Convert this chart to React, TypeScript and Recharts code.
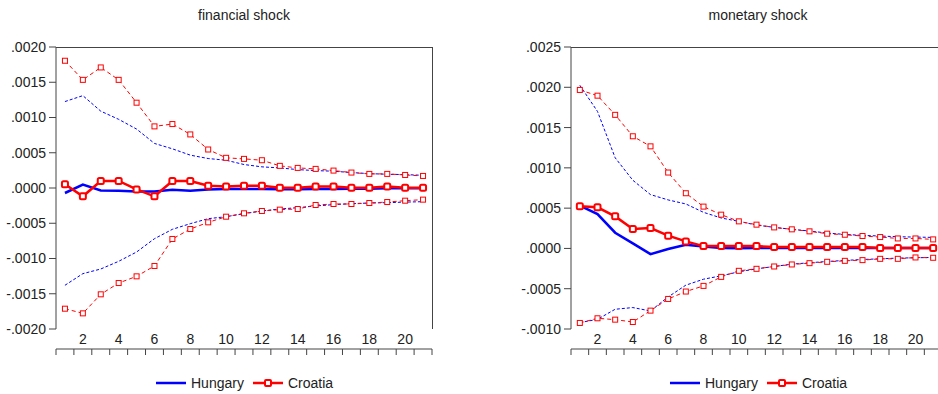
import React from 'react';
import { ComposedChart, Line, XAxis, YAxis } from 'recharts';

const periods = [1, 2, 3, 4, 5, 6, 7, 8, 9, 10, 11, 12, 13, 14, 15, 16, 17, 18, 19, 20, 21];
const bandEdges = [0.5, 1.5, 2.5, 3.5, 4.5, 5.5, 6.5, 7.5, 8.5, 9.5, 10.5, 11.5, 12.5, 13.5, 14.5, 15.5, 16.5, 17.5, 18.5, 19.5, 20.5, 21.5];
const periodLabels = [2, 4, 6, 8, 10, 12, 14, 16, 18, 20];

const finTicks = [-0.002, -0.0015, -0.001, -0.0005, 0, 0.0005, 0.001, 0.0015, 0.002];
const monTicks = [-0.001, -0.0005, 0, 0.0005, 0.001, 0.0015, 0.002, 0.0025];

const finHungary = [-0.000071, 0.000048, -0.000035, -0.00004, -0.000048, -0.00005, -0.000024, -0.00004, -0.00002, -0.000014, -0.000014, -0.000014, -0.000018, -0.000018, -0.000014, -0.000014, -0.00001, -0.00001, -0.000005, -0.000005, -0.000005];
const finHungaryUp = [0.001226, 0.00131, 0.00109, 0.000974, 0.000836, 0.000632, 0.000556, 0.000466, 0.000418, 0.000394, 0.000333, 0.0003, 0.000285, 0.000261, 0.000247, 0.000238, 0.000219, 0.000204, 0.000195, 0.00019, 0.00018];
const finHungaryLow = [-0.00138, -0.001215, -0.001149, -0.00104, -0.000908, -0.000719, -0.000586, -0.000506, -0.000435, -0.000407, -0.000364, -0.000326, -0.000298, -0.000279, -0.000255, -0.000236, -0.000222, -0.000213, -0.000208, -0.0002, -0.000194];
const finCroatia = [0.000052, -0.000118, 0.0001, 0.0001, -0.00002, -0.000118, 0.0001, 0.0001, 0.000033, 0.00002, 0.000033, 0.000033, 0.000005, 0.000005, 0.00002, 0.00002, 0.000005, 0.000005, 0.00002, 0.000005, 0.000005];
const finCroatiaUp = [0.001805, 0.001534, 0.00171, 0.001534, 0.00121, 0.000874, 0.000907, 0.00076, 0.000546, 0.000428, 0.000413, 0.000394, 0.000314, 0.000285, 0.000271, 0.000247, 0.000219, 0.0002, 0.0002, 0.000185, 0.000171];
const finCroatiaLow = [-0.001712, -0.001778, -0.001508, -0.001348, -0.001253, -0.001106, -0.000723, -0.000582, -0.000487, -0.000407, -0.000359, -0.000326, -0.000307, -0.000298, -0.000241, -0.000227, -0.000227, -0.000213, -0.000199, -0.00018, -0.000165];

const monHungary = [0.000531, 0.000427, 0.000195, 0.000062, -0.000071, -0.000008, 0.000046, 0.000025, 0.000004, 0.000002, 0.000004, 0.000004, 0.000004, 0.000004, 0.000004, 0.000004, 0.000004, 0.000004, 0.000004, 0.000004, 0.000004];
const monHungaryUp = [0.002025, 0.0017, 0.001125, 0.000846, 0.000668, 0.000602, 0.000552, 0.000448, 0.000378, 0.000336, 0.00029, 0.000261, 0.000237, 0.000216, 0.000191, 0.000174, 0.000162, 0.000154, 0.000145, 0.000141, 0.000137];
const monHungaryLow = [-0.000921, -0.00088, -0.000755, -0.000734, -0.000776, -0.000602, -0.000456, -0.000382, -0.00034, -0.00029, -0.000253, -0.000224, -0.000195, -0.000178, -0.000162, -0.000149, -0.000137, -0.000129, -0.00012, -0.000116, -0.000112];
const monCroatia = [0.000523, 0.00051, 0.000398, 0.000241, 0.000253, 0.000158, 0.000087, 0.000029, 0.000029, 0.000029, 0.000029, 0.000017, 0.000017, 0.000017, 0.000017, 0.000017, 0.000017, 0.000004, 0.000004, 0.000004, 0.000004];
const monCroatiaUp = [0.001967, 0.001896, 0.001658, 0.001392, 0.001267, 0.000942, 0.000685, 0.000519, 0.000419, 0.000336, 0.000295, 0.000261, 0.000237, 0.000212, 0.000183, 0.00017, 0.000154, 0.000141, 0.000124, 0.000124, 0.000112];
const monCroatiaLow = [-0.000925, -0.000867, -0.000884, -0.000913, -0.000772, -0.000627, -0.000535, -0.000465, -0.000353, -0.000278, -0.000253, -0.000224, -0.000199, -0.000183, -0.000166, -0.000154, -0.000145, -0.000129, -0.000129, -0.000112, -0.000116];

const FONT = "'Liberation Sans', Arial, sans-serif";
const TEXT = '#222';
const AXIS = '#444';
const BLUE = '#0000ff';
const RED = '#ff0000';

const CHART_H = 394;
const TOP = 47;
const X_TICK_H = 7;
const X_LBL_H = 20;
const BOTTOM = 38;

const fmt = (v: number) => {
  const s = Math.abs(v).toFixed(4).replace(/^0/, '');
  return (v < -1e-12 ? '-' : '') + s;
};

const build = (h: number[], hu: number[], hl: number[], c: number[], cu: number[], cl: number[]) =>
  periods.map((p, i) => ({ p, h: h[i], hu: hu[i], hl: hl[i], c: c[i], cu: cu[i], cl: cl[i] }));

const finData = build(finHungary, finHungaryUp, finHungaryLow, finCroatia, finCroatiaUp, finCroatiaLow);
const monData = build(monHungary, monHungaryUp, monHungaryLow, monCroatia, monCroatiaUp, monCroatiaLow);

const bandDot = (props: any) => {
  const { cx, cy, index } = props;
  if (cx == null || cy == null) return <g key={`bd-${index}`} />;
  return <rect key={`bd-${index}`} x={cx - 2.5} y={cy - 2.5} width={5} height={5} fill="#fff" stroke={RED} strokeWidth={1} />;
};
const mainDot = (props: any) => {
  const { cx, cy, index } = props;
  if (cx == null || cy == null) return <g key={`md-${index}`} />;
  return <rect key={`md-${index}`} x={cx - 3} y={cy - 3} width={6} height={6} rx={1.5} fill="#fff" stroke={RED} strokeWidth={2} />;
};

type PanelProps = {
  data: any[];
  domain: [number, number];
  ticks: number[];
  width: number;
  yWidth: number;
  right: number;
};

function Panel({ data, domain, ticks, width, yWidth, right }: PanelProps) {
  const tickStyle = { fill: TEXT, fontSize: 14, fontFamily: FONT };
  const plotW = width - yWidth - right;
  const plotH = CHART_H - TOP - X_TICK_H - X_LBL_H - BOTTOM;
  return (
    <div style={{ position: 'relative', width, height: CHART_H }}>
      <ComposedChart width={width} height={CHART_H} data={data} margin={{ top: TOP, right, left: 0, bottom: BOTTOM }}>
        <XAxis
          xAxisId="x"
          dataKey="p"
          type="number"
          domain={[0.5, 21.5]}
          ticks={bandEdges}
          tickFormatter={() => ''}
          tickSize={6}
          height={X_TICK_H}
          stroke={AXIS}
          allowDataOverflow
        />
        <XAxis
          xAxisId="lbl"
          dataKey="p"
          type="number"
          domain={[0.5, 21.5]}
          ticks={periodLabels}
          axisLine={false}
          tickLine={false}
          tickSize={0}
          tickMargin={5}
          height={X_LBL_H}
          tick={tickStyle}
          allowDataOverflow
        />
        <YAxis
          domain={domain}
          ticks={ticks}
          tickFormatter={fmt}
          width={yWidth}
          tickSize={7}
          tickMargin={3}
          stroke={AXIS}
          tick={tickStyle}
          allowDataOverflow
        />
        <Line xAxisId="x" dataKey="hu" type="linear" stroke={BLUE} strokeWidth={1} strokeDasharray="3 2" dot={false} activeDot={false} isAnimationActive={false} />
        <Line xAxisId="x" dataKey="hl" type="linear" stroke={BLUE} strokeWidth={1} strokeDasharray="3 2" dot={false} activeDot={false} isAnimationActive={false} />
        <Line xAxisId="x" dataKey="h" type="linear" stroke={BLUE} strokeWidth={2.5} dot={false} activeDot={false} isAnimationActive={false} />
        <Line xAxisId="x" dataKey="cu" type="linear" stroke={RED} strokeWidth={1} strokeDasharray="4 3" dot={bandDot} activeDot={false} isAnimationActive={false} />
        <Line xAxisId="x" dataKey="cl" type="linear" stroke={RED} strokeWidth={1} strokeDasharray="4 3" dot={bandDot} activeDot={false} isAnimationActive={false} />
        <Line xAxisId="x" dataKey="c" type="linear" stroke={RED} strokeWidth={2.5} dot={mainDot} activeDot={false} isAnimationActive={false} />
      </ComposedChart>
      <div
        style={{
          position: 'absolute',
          left: yWidth,
          top: TOP - 0.5,
          width: plotW + 0.5,
          height: plotH + 0.5,
          borderTop: `1px solid ${AXIS}`,
          borderRight: `1px solid ${AXIS}`,
          boxSizing: 'border-box',
          pointerEvents: 'none',
        }}
      />
    </div>
  );
}

function LegendRow({ left }: { left: number }) {
  return (
    <div
      style={{
        position: 'absolute',
        left,
        top: 375,
        display: 'flex',
        alignItems: 'center',
        fontFamily: FONT,
        fontSize: 14,
        lineHeight: '16px',
        color: TEXT,
        whiteSpace: 'nowrap',
      }}
    >
      <svg width={30} height={10} style={{ display: 'block' }}>
        <line x1={0} y1={5} x2={30} y2={5} stroke={BLUE} strokeWidth={2.5} />
      </svg>
      <span style={{ marginLeft: 5 }}>Hungary</span>
      <svg width={30} height={10} style={{ display: 'block', marginLeft: 9 }}>
        <line x1={0} y1={5} x2={30} y2={5} stroke={RED} strokeWidth={2.5} />
        <rect x={12} y={2} width={6} height={6} rx={1} fill="#fff" stroke={RED} strokeWidth={2} />
      </svg>
      <span style={{ marginLeft: 5 }}>Croatia</span>
    </div>
  );
}

function Title({ text, center }: { text: string; center: number }) {
  return (
    <div
      style={{
        position: 'absolute',
        left: center - 100,
        width: 200,
        top: 7,
        textAlign: 'center',
        fontFamily: FONT,
        fontSize: 14,
        lineHeight: '16px',
        color: TEXT,
      }}
    >
      {text}
    </div>
  );
}

export default function App() {
  return (
    <div style={{ position: 'absolute', left: 0, top: 0, width: 938, height: 394, overflow: 'hidden', background: '#fff' }}>
      <Title text="financial shock" center={244} />
      <Title text="monetary shock" center={758} />
      <div style={{ position: 'absolute', left: 0, top: 0 }}>
        <Panel data={finData} domain={[-0.002, 0.002]} ticks={finTicks} width={450} yWidth={56} right={18} />
      </div>
      <div style={{ position: 'absolute', left: 480, top: 0 }}>
        <Panel data={monData} domain={[-0.001, 0.0025]} ticks={monTicks} width={480} yWidth={91} right={18} />
      </div>
      <LegendRow left={156} />
      <LegendRow left={670} />
    </div>
  );
}
